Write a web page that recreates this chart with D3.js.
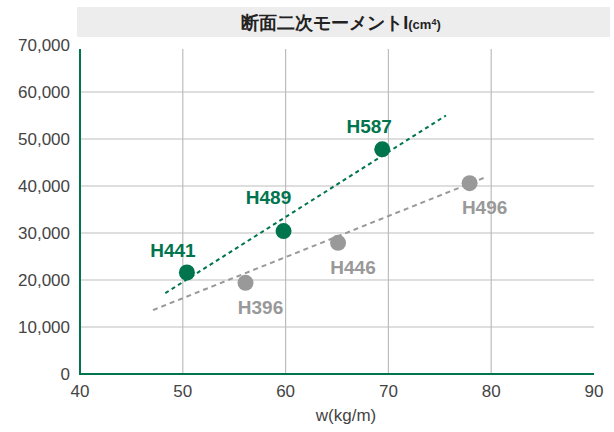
<!DOCTYPE html>
<html>
<head>
<meta charset="utf-8">
<script src="https://cdn.jsdelivr.net/npm/d3@7"></script>
<style>
  body { margin: 0; background: #fff; }
  text { font-family: "Liberation Sans", Arial, sans-serif; }
</style>
</head>
<body>
<div id="chart"></div>
<script>
// data
const greenNames = ["H441", "H489", "H587"];
const greenW = [50.4, 59.8, 69.4];
const greenI = [21600, 30400, 47800];

const grayNames = ["H396", "H446", "H496"];
const grayW = [56.1, 65.1, 77.9];
const grayI = [19400, 27900, 40600];

// trend line end points
const greenTrendW = [48.3, 75.6];
const greenTrendI = [17200, 55000];
const grayTrendW = [47.1, 79.5];
const grayTrendI = [13600, 41900];

const xTicks = [40, 50, 60, 70, 80, 90];
const yTicks = [0, 10000, 20000, 30000, 40000, 50000, 60000, 70000];

const titleText = "断面二次モーメントI";
const xTitle = "w(kg/m)";

const green = "#00754d", gray = "#999999";

const width = 614, height = 432;
const margin = { top: 45, right: 20, bottom: 58, left: 80 };

const svg = d3.select("#chart")
    .append("svg")
    .attr("width", width)
    .attr("height", height);

const x = d3.scaleLinear().domain([40, 90]).range([margin.left, width - margin.right]);
const y = d3.scaleLinear().domain([0, 70000]).range([height - margin.bottom, margin.top]);

// title band
svg.append("rect")
    .attr("x", 77).attr("y", 7)
    .attr("width", 533).attr("height", 30)
    .attr("fill", "#ededed");
const t = svg.append("text")
    .attr("x", 341).attr("y", 29)
    .attr("text-anchor", "middle")
    .attr("font-family", "'Noto Sans CJK JP', sans-serif")
    .attr("font-weight", "bold")
    .attr("font-size", 18)
    .attr("fill", "#222");
t.append("tspan").text(titleText);
t.append("tspan").attr("font-size", 13).text("(cm");
t.append("tspan").attr("font-size", 9).attr("dy", -4).text("4");
t.append("tspan").attr("font-size", 13).attr("dy", 4).text(")");

const plotTop = y(70000) + 4;

// grid lines
svg.append("g")
    .selectAll("line")
    .data(yTicks.slice(1, -1))
    .join("line")
    .attr("x1", x(40)).attr("x2", x(90))
    .attr("y1", d => y(d)).attr("y2", d => y(d))
    .attr("stroke", "#bdbdbd").attr("stroke-width", 1.2);
svg.append("g")
    .selectAll("line")
    .data(xTicks.slice(1, -1))
    .join("line")
    .attr("x1", d => x(d)).attr("x2", d => x(d))
    .attr("y1", plotTop).attr("y2", y(0))
    .attr("stroke", "#bdbdbd").attr("stroke-width", 1.2);

// axes
svg.append("line")
    .attr("x1", x(40)).attr("x2", x(40))
    .attr("y1", plotTop).attr("y2", y(0))
    .attr("stroke", green).attr("stroke-width", 2);
svg.append("line")
    .attr("x1", x(40) - 1).attr("x2", x(90))
    .attr("y1", y(0)).attr("y2", y(0))
    .attr("stroke", green).attr("stroke-width", 2);

// tick labels
svg.append("g")
    .selectAll("text")
    .data(yTicks)
    .join("text")
    .attr("x", x(40) - 10)
    .attr("y", d => y(d) + 6)
    .attr("text-anchor", "end")
    .attr("font-size", 17)
    .attr("fill", "#444")
    .text(d => d3.format(",")(d));
svg.append("g")
    .selectAll("text")
    .data(xTicks)
    .join("text")
    .attr("x", d => x(d))
    .attr("y", y(0) + 23)
    .attr("text-anchor", "middle")
    .attr("font-size", 17)
    .attr("fill", "#444")
    .text(d => d);

svg.append("text")
    .attr("x", 346).attr("y", 421)
    .attr("text-anchor", "middle")
    .attr("font-size", 17)
    .attr("fill", "#444")
    .text(xTitle);

// trend lines
const line = d3.line().x(d => x(d[0])).y(d => y(d[1]));
svg.append("path")
    .attr("d", line(d3.zip(grayTrendW, grayTrendI)))
    .attr("fill", "none")
    .attr("stroke", gray).attr("stroke-width", 2)
    .attr("stroke-dasharray", "5,4");
svg.append("path")
    .attr("d", line(d3.zip(greenTrendW, greenTrendI)))
    .attr("fill", "none")
    .attr("stroke", green).attr("stroke-width", 2)
    .attr("stroke-dasharray", "4,3.5");

// points and labels
function series(names, ws, is, color, dx, dy) {
    const g = svg.append("g");
    g.selectAll("circle")
        .data(d3.range(names.length))
        .join("circle")
        .attr("cx", i => x(ws[i]))
        .attr("cy", i => y(is[i]))
        .attr("r", 8)
        .attr("fill", color);
    g.selectAll("text")
        .data(d3.range(names.length))
        .join("text")
        .attr("x", i => x(ws[i]) + dx[i])
        .attr("y", i => y(is[i]) + dy[i])
        .attr("text-anchor", "middle")
        .attr("font-size", 19)
        .attr("font-weight", "bold")
        .attr("fill", color)
        .text(i => names[i]);
}
series(greenNames, greenW, greenI, green, [-14, -15, -13], [-15, -27, -16]);
series(grayNames, grayW, grayI, gray, [15, 15, 15], [31, 31, 31]);
</script>
</body>
</html>
